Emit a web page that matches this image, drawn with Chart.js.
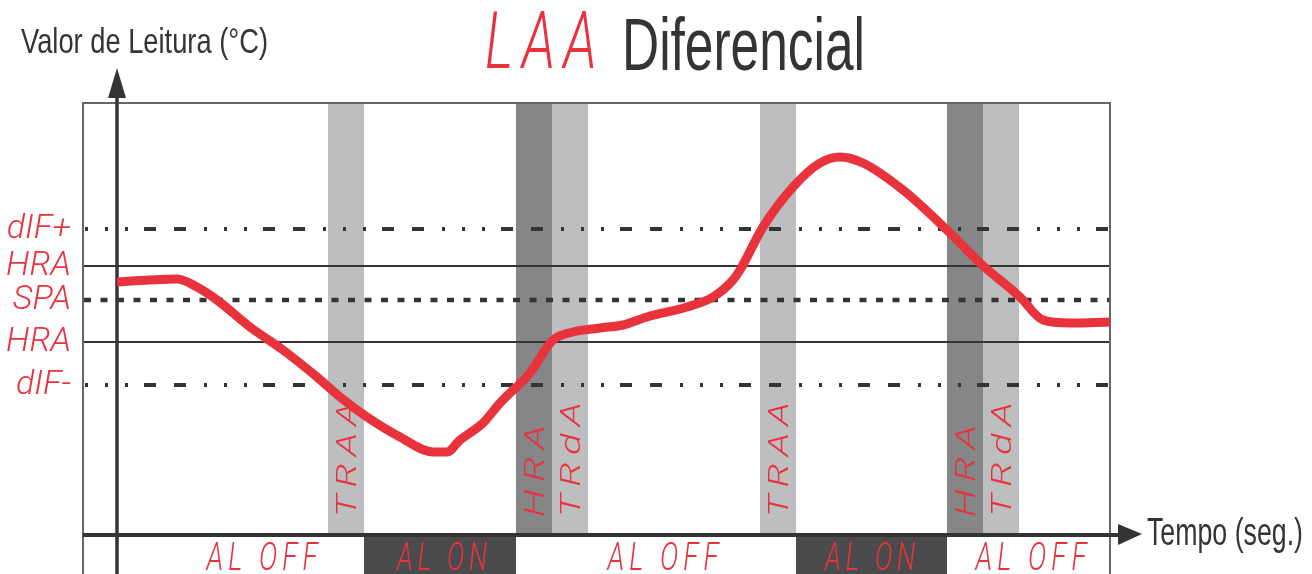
<!DOCTYPE html>
<html>
<head>
<meta charset="utf-8">
<script src="https://cdn.jsdelivr.net/npm/chart.js@4.4.1/dist/chart.umd.min.js"></script>
<style>
  html, body { margin: 0; background: #fff; }
</style>
</head>
<body>
<canvas id="laaChart" width="1312" height="574"></canvas>
<script>
// reading curve (time in seg, value in °C)
const timeSec = [0, 3.3, 6.0, 8.0, 10.0, 13.3, 16.6, 20.0, 22.3, 25.0, 28.3, 31.6, 33.0, 34.3,
  36.6, 38.3, 41.3, 43.6, 45.6, 48.3, 50.6, 53.0, 57.0, 59.6, 61.6, 62.3, 64.6, 67.6, 70.3,
  72.3, 74.6, 78.6, 83.0, 86.3, 90.3, 92.6, 95.3, 99.3];
const readingC = [25.3, 25.5, 25.6, 24.8, 23.5, 20.8, 18.5, 15.8, 13.8, 11.8, 9.8, 8.3, 8.3, 9.5,
  11.2, 13.2, 16.2, 19.5, 20.3, 20.7, 21.0, 21.8, 22.8, 23.8, 25.5, 26.5, 30.8, 34.8, 37.2,
  37.8, 37.2, 34.5, 30.5, 27.2, 23.8, 21.5, 21.2, 21.3];

// set points / hysteresis levels
const refLabels = ["dIF+", "HRA", "SPA", "HRA", "dIF-"];
const refValues = [30.6, 26.9, 23.5, 19.3, 15.0];

// timer bands
const bandLabels = ["TRAA", "HRA", "TRdA", "TRAA", "HRA", "TRdA"];
const bandStart = [21.1, 39.9, 43.5, 64.3, 83.0, 86.6];
const bandEnd = [24.7, 43.5, 47.1, 67.9, 86.6, 90.2];

// alarm output strip
const alarmLabels = ["AL OFF", "AL ON", "AL OFF", "AL ON", "AL OFF"];
const alarmStart = [-3.4, 24.7, 39.9, 67.9, 83.0];
const alarmEnd = [24.7, 39.9, 67.9, 83.0, 99.3];
const alarmLabelAt = [14.5, 32.5, 54.6, 75.3, 91.4];

const RED = "#e8333c";
const INK = "#343436";
const SEG_FONT = "Roboto, 'DejaVu Sans', sans-serif";
const TXT_FONT = "'Liberation Sans Narrow', 'Liberation Sans', Arial, sans-serif";

// draw text squeezed into a given width, baseline at y, with a given cap height
function fitText(ctx, text, left, y, width, cap, o) {
  const size = cap / 0.71;
  ctx.save();
  ctx.font = `${o.style || "normal"} ${o.weight || 400} ${size}px ${o.family}`;
  const sp = o.spacing ? size * o.spacing : 0;
  ctx.letterSpacing = sp + "px";
  const w = ctx.measureText(text).width - sp;
  ctx.translate(left, y);
  if (o.rotate) ctx.rotate(o.rotate);
  ctx.scale(width / w, 1);
  ctx.fillStyle = o.color;
  ctx.textAlign = "left";
  ctx.textBaseline = "alphabetic";
  ctx.fillText(text, 0, 0);
  ctx.restore();
}

function segOpts(extra) {
  return Object.assign({ family: SEG_FONT, weight: 300, style: "italic", color: RED, spacing: 0.18 }, extra);
}

function lineStyle(label) {
  if (label.startsWith("dIF")) return { dash: [12, 18, 12, 18, 3, 17, 3, 17, 3, 16], offset: 59, width: 4 };
  if (label === "SPA") return { dash: [7, 9.5], offset: 0, width: 4.5 };
  return { dash: [], offset: 0, width: 2 };
}

const diagram = {
  id: "diagram",
  beforeDatasetsDraw(chart) {
    const { ctx, chartArea: a, scales: { x, y } } = chart;
    const x0 = x.getPixelForValue(0);
    const y0 = y.getPixelForValue(0);

    // timer bands
    bandLabels.forEach((lab, i) => {
      const l = x.getPixelForValue(bandStart[i]);
      const r = x.getPixelForValue(bandEnd[i]);
      ctx.fillStyle = lab === "HRA" ? "#858688" : "#bdbec0";
      ctx.fillRect(l, a.top, r - l, y0 - a.top);
    });

    // alarm strip boxes
    alarmLabels.forEach((lab, i) => {
      if (lab !== "AL ON") return;
      const l = x.getPixelForValue(alarmStart[i]);
      const r = x.getPixelForValue(alarmEnd[i]);
      ctx.fillStyle = "#4b4b4d";
      ctx.fillRect(l, y0, r - l, a.bottom - y0);
    });

    // reference lines
    refValues.forEach((v, i) => {
      const s = lineStyle(refLabels[i]);
      const py = y.getPixelForValue(v);
      ctx.save();
      ctx.strokeStyle = INK;
      ctx.lineWidth = s.width;
      ctx.setLineDash(s.dash);
      ctx.lineDashOffset = s.offset;
      ctx.beginPath();
      ctx.moveTo(a.left + 1, py);
      ctx.lineTo(a.right, py);
      ctx.stroke();
      ctx.restore();
    });

    // frame
    ctx.save();
    ctx.strokeStyle = "#666";
    ctx.lineWidth = 2;
    ctx.beginPath();
    ctx.moveTo(a.left, a.bottom);
    ctx.lineTo(a.left, a.top);
    ctx.lineTo(a.right, a.top);
    ctx.lineTo(a.right, a.bottom);
    ctx.stroke();

    // axes with arrows
    ctx.strokeStyle = INK;
    ctx.fillStyle = INK;
    ctx.lineWidth = 4;
    ctx.beginPath();
    ctx.moveTo(a.left, y0);
    ctx.lineTo(a.right + 12, y0);
    ctx.stroke();
    ctx.beginPath();
    ctx.moveTo(a.right + 8, y0 - 11);
    ctx.lineTo(a.right + 32, y0 - 1);
    ctx.lineTo(a.right + 8, y0 + 10);
    ctx.closePath();
    ctx.fill();

    ctx.lineWidth = 3.5;
    ctx.beginPath();
    ctx.moveTo(x0, a.bottom);
    ctx.lineTo(x0, a.top - 12);
    ctx.stroke();
    ctx.beginPath();
    ctx.moveTo(x0 - 9, a.top - 5);
    ctx.lineTo(x0, a.top - 35);
    ctx.lineTo(x0 + 9, a.top - 5);
    ctx.closePath();
    ctx.fill();
    ctx.restore();

    // band labels, reading upward
    bandLabels.forEach((lab, i) => {
      const cx = (x.getPixelForValue(bandStart[i]) + x.getPixelForValue(bandEnd[i])) / 2;
      const len = lab.length === 4 ? 115 : 92;
      fitText(ctx, lab, cx + 10, y0 - 18, len, 20, segOpts({ rotate: -Math.PI / 2 }));
    });

    // alarm labels
    alarmLabels.forEach((lab, i) => {
      const cx = x.getPixelForValue(alarmLabelAt[i]);
      const w = lab === "AL ON" ? 90 : 111;
      fitText(ctx, lab, cx - w / 2, a.bottom - 4, w, 27, segOpts());
    });
  },
  afterDraw(chart) {
    const { ctx } = chart;
    fitText(ctx, "LAA", 485, 68, 112, 56, segOpts({ spacing: 0.15 }));
    fitText(ctx, "Diferencial", 622, 70, 243, 53, { family: TXT_FONT, color: INK });
    fitText(ctx, "Valor de Leitura (°C)", 21, 53, 247, 25, { family: TXT_FONT, color: INK });
    fitText(ctx, "Tempo (seg.)", 1147, 545, 156, 27, { family: TXT_FONT, color: INK });
  }
};

new Chart(document.getElementById("laaChart"), {
  type: "scatter",
  data: {
    datasets: [{
      label: "Valor de Leitura",
      data: timeSec.map((t, i) => ({ x: t, y: readingC[i] })),
      showLine: true,
      borderColor: RED,
      borderWidth: 9,
      pointRadius: 0,
      cubicInterpolationMode: "monotone",
      clip: 0,
    }],
  },
  options: {
    responsive: false,
    animation: false,
    layout: { padding: { left: 0, top: 103, right: 202, bottom: 0 } },
    scales: {
      x: { type: "linear", min: -3.4, max: 99.3, display: false },
      y: {
        type: "linear",
        min: -3.9,
        max: 43.2,
        afterFit(s) {
          s.width = 83;
          s.paddingTop = 0;
          s.paddingBottom = 0;
        },
        afterBuildTicks(s) { s.ticks = refValues.map((v) => ({ value: v })); },
        grid: { display: false },
        border: { display: false },
        ticks: {
          autoSkip: false,
          padding: 4,
          color: RED,
          font: { family: "Roboto", style: "italic", weight: 300, size: 34 },
          callback: (v) => refLabels[refValues.indexOf(v)],
        },
      },
    },
    plugins: {
      legend: { display: false },
      tooltip: { enabled: false },
    },
  },
  plugins: [diagram],
});
</script>
</body>
</html>
